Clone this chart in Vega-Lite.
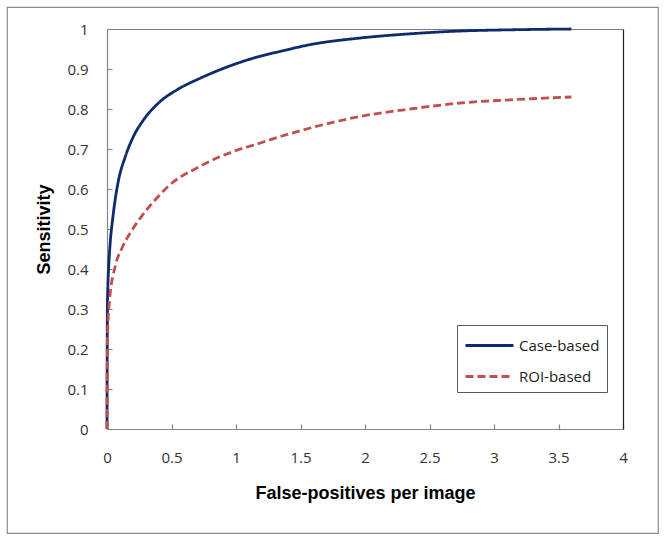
{
  "$schema": "https://vega.github.io/schema/vega-lite/v6.json",
  "width": 651,
  "height": 526,
  "padding": {"left": 7, "top": 7, "right": 9, "bottom": 9},
  "autosize": {"type": "none"},
  "background": "white",
  "config": {
    "view": {"stroke": "#8c8c8c", "strokeWidth": 1.2},
    "font": "Open Sans"
  },
  "data": {
    "values": [
      {"fp": 0, "sens": 0, "series": "Case-based"},
      {"fp": 0.001, "sens": 0.15, "series": "Case-based"},
      {"fp": 0.003, "sens": 0.3, "series": "Case-based"},
      {"fp": 0.007, "sens": 0.36, "series": "Case-based"},
      {"fp": 0.013, "sens": 0.405, "series": "Case-based"},
      {"fp": 0.026, "sens": 0.47, "series": "Case-based"},
      {"fp": 0.045, "sens": 0.528, "series": "Case-based"},
      {"fp": 0.064, "sens": 0.575, "series": "Case-based"},
      {"fp": 0.09, "sens": 0.623, "series": "Case-based"},
      {"fp": 0.142, "sens": 0.681, "series": "Case-based"},
      {"fp": 0.206, "sens": 0.732, "series": "Case-based"},
      {"fp": 0.284, "sens": 0.773, "series": "Case-based"},
      {"fp": 0.413, "sens": 0.819, "series": "Case-based"},
      {"fp": 0.543, "sens": 0.848, "series": "Case-based"},
      {"fp": 0.723, "sens": 0.877, "series": "Case-based"},
      {"fp": 0.981, "sens": 0.911, "series": "Case-based"},
      {"fp": 1.188, "sens": 0.932, "series": "Case-based"},
      {"fp": 1.343, "sens": 0.944, "series": "Case-based"},
      {"fp": 1.576, "sens": 0.961, "series": "Case-based"},
      {"fp": 1.964, "sens": 0.9775, "series": "Case-based"},
      {"fp": 2.35, "sens": 0.988, "series": "Case-based"},
      {"fp": 2.74, "sens": 0.995, "series": "Case-based"},
      {"fp": 3.13, "sens": 0.998, "series": "Case-based"},
      {"fp": 3.6, "sens": 1.0, "series": "Case-based"},
      {"fp": 0, "sens": 0, "series": "ROI-based"},
      {"fp": 0.002, "sens": 0.15, "series": "ROI-based"},
      {"fp": 0.005, "sens": 0.24, "series": "ROI-based"},
      {"fp": 0.02, "sens": 0.323, "series": "ROI-based"},
      {"fp": 0.064, "sens": 0.407, "series": "ROI-based"},
      {"fp": 0.12, "sens": 0.455, "series": "ROI-based"},
      {"fp": 0.18, "sens": 0.49, "series": "ROI-based"},
      {"fp": 0.271, "sens": 0.533, "series": "ROI-based"},
      {"fp": 0.374, "sens": 0.573, "series": "ROI-based"},
      {"fp": 0.465, "sens": 0.604, "series": "ROI-based"},
      {"fp": 0.723, "sens": 0.657, "series": "ROI-based"},
      {"fp": 0.981, "sens": 0.694, "series": "ROI-based"},
      {"fp": 1.188, "sens": 0.715, "series": "ROI-based"},
      {"fp": 1.343, "sens": 0.731, "series": "ROI-based"},
      {"fp": 1.576, "sens": 0.7525, "series": "ROI-based"},
      {"fp": 1.964, "sens": 0.7815, "series": "ROI-based"},
      {"fp": 2.35, "sens": 0.8, "series": "ROI-based"},
      {"fp": 2.74, "sens": 0.815, "series": "ROI-based"},
      {"fp": 3.13, "sens": 0.823, "series": "ROI-based"},
      {"fp": 3.6, "sens": 0.83, "series": "ROI-based"}
    ]
  },
  "layer": [
    {
      "mark": {"type": "line", "interpolate": "monotone", "strokeWidth": 2.8},
      "encoding": {
        "x": {
          "field": "fp", "type": "quantitative",
          "scale": {"domain": [0, 4], "range": [100, 616], "nice": false, "zero": false},
          "axis": {
            "orient": "bottom", "offset": -104,
            "values": [0, 0.5, 1, 1.5, 2, 2.5, 3, 3.5, 4],
            "format": "~g", "grid": false, "labelFlush": false,
            "domainColor": "#868686", "domainWidth": 1.2,
            "tickColor": "#868686", "tickSize": -5, "tickWidth": 1.2,
            "labelFont": "Open Sans", "labelFontSize": 15, "labelColor": "#333333",
            "labelPadding": 26,
            "title": "False-positives per image",
            "titleFont": "Liberation Sans", "titleFontSize": 18, "titleFontWeight": "bold", "titleColor": "#000000",
            "titlePadding": 19
          }
        },
        "y": {
          "field": "sens", "type": "quantitative",
          "scale": {"domain": [0, 1], "range": [422, 22], "nice": false},
          "axis": {
            "orient": "left", "offset": -100,
            "values": [0, 0.1, 0.2, 0.3, 0.4, 0.5, 0.6, 0.7, 0.8, 0.9, 1],
            "format": "~g", "grid": false, "labelFlush": false,
            "domainColor": "#868686", "domainWidth": 1.2,
            "tickColor": "#868686", "tickSize": -5, "tickWidth": 1.2,
            "labelFont": "Open Sans", "labelFontSize": 15, "labelColor": "#333333",
            "labelPadding": 24,
            "title": "Sensitivity",
            "titleFont": "Liberation Sans", "titleFontSize": 18, "titleFontWeight": "bold", "titleColor": "#000000",
            "titlePadding": 13
          }
        },
        "color": {
          "field": "series", "type": "nominal",
          "scale": {"domain": ["Case-based", "ROI-based"], "range": ["#0f2a6e", "#c0504d"]},
          "legend": {
            "orient": "none", "legendX": 450, "legendY": 318,
            "title": null,
            "strokeColor": "#5a5a5a", "fillColor": "white", "padding": 7,
            "symbolType": "M-1,0H3", "symbolSize": 576, "symbolStrokeWidth": 2.8,
            "labelFont": "Open Sans", "labelFontSize": 15, "labelColor": "#222222",
            "labelOffset": 28, "rowPadding": 9
          }
        },
        "strokeDash": {
          "field": "series", "type": "nominal",
          "scale": {"domain": ["Case-based", "ROI-based"], "range": [[1, 0], [8, 4]]},
          "legend": {
            "orient": "none", "legendX": 450, "legendY": 318,
            "title": null,
            "strokeColor": "#5a5a5a", "fillColor": "white", "padding": 7,
            "symbolType": "M-1,0H3", "symbolSize": 576, "symbolStrokeWidth": 2.8,
            "labelFont": "Open Sans", "labelFontSize": 15, "labelColor": "#222222",
            "labelOffset": 28, "rowPadding": 9
          }
        }
      }
    },
    {
      "mark": {"type": "line", "opacity": 0},
      "encoding": {
        "x": {
          "field": "fp", "type": "quantitative",
          "axis": {"orient": "top", "offset": -22, "labels": false, "ticks": false, "grid": false, "title": null, "domainColor": "#7a7a7a", "domainWidth": 1.2}
        },
        "y": {
          "field": "sens", "type": "quantitative",
          "axis": {"orient": "right", "offset": -35, "labels": false, "ticks": false, "grid": false, "title": null, "domainColor": "#222222", "domainWidth": 1.2}
        },
        "detail": {"field": "series", "type": "nominal"}
      }
    }
  ],
  "resolve": {"axis": {"x": "independent", "y": "independent"}}
}
